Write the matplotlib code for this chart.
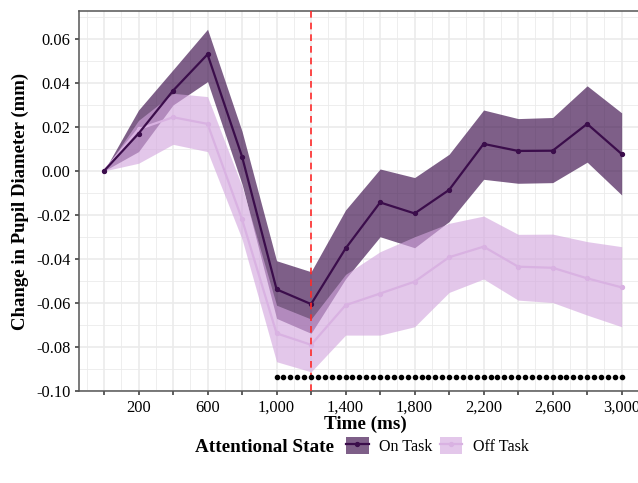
import matplotlib
matplotlib.use("Agg")
import matplotlib.pyplot as plt
from matplotlib.patches import Patch
from matplotlib.lines import Line2D

plt.rcParams['font.family'] = ['Liberation Serif', 'DejaVu Serif']

# ---- data ----
time_ms = [0, 200, 400, 600, 800, 1000, 1200, 1400, 1600, 1800, 2000, 2200, 2400, 2600, 2800, 3000]

on_mean = [0.0, 0.017, 0.0365, 0.053, 0.0065, -0.0538, -0.0605, -0.0352, -0.0143, -0.0193, -0.0086, 0.0123, 0.0091, 0.0092, 0.0214, 0.0077]
on_upper = [0.0, 0.0277, 0.046, 0.0644, 0.018, -0.0408, -0.0458, -0.0177, 0.0009, -0.003, 0.0076, 0.0277, 0.0238, 0.0243, 0.0387, 0.0264]
on_lower = [0.0, 0.0088, 0.0300, 0.0406, -0.006, -0.067, -0.0738, -0.049, -0.0299, -0.0349, -0.023, -0.0038, -0.0056, -0.0053, 0.004, -0.0109]

off_mean = [0.0, 0.019, 0.0244, 0.0214, -0.022, -0.0738, -0.079, -0.061, -0.0557, -0.0503, -0.0392, -0.0344, -0.0435, -0.044, -0.0488, -0.0529]
off_upper = [0.0, 0.023, 0.0353, 0.0338, -0.007, -0.061, -0.0673, -0.047, -0.0367, -0.0299, -0.0238, -0.0205, -0.0288, -0.0287, -0.0321, -0.0344]
off_lower = [0.0, 0.0035, 0.0121, 0.0088, -0.031, -0.0867, -0.0913, -0.0746, -0.0746, -0.0708, -0.0552, -0.0491, -0.0587, -0.0598, -0.0655, -0.0708]

sig_times = [1000, 1040, 1080, 1120, 1160, 1200, 1240, 1280, 1320, 1360, 1400, 1440, 1480,
             1520, 1560, 1600, 1640, 1680, 1720, 1760, 1800, 1840, 1880, 1920, 1960, 2000,
             2040, 2080, 2120, 2160, 2200, 2240, 2280, 2320, 2360, 2400, 2440, 2480, 2520,
             2560, 2600, 2640, 2680, 2720, 2760, 2800, 2840, 2880, 2920, 2960, 3000]
sig_level = -0.0935

onset_ms = 1200

x_ticks = [0, 200, 400, 600, 800, 1000, 1200, 1400, 1600, 1800, 2000, 2200, 2400, 2600, 2800, 3000]
x_tick_labels = ['', '200', '', '600', '', '1,000', '', '1,400', '', '1,800', '', '2,200', '', '2,600', '', '3,000']
y_ticks = [-0.10, -0.08, -0.06, -0.04, -0.02, 0.00, 0.02, 0.04, 0.06]
y_tick_labels = ['-0.10', '-0.08', '-0.06', '-0.04', '-0.02', '0.00', '0.02', '0.04', '0.06']

series_labels = ['On Task', 'Off Task']

# ---- style ----
on_line_c = '#3b0d4b'
on_fill_c = '#3b0d4b'
off_line_c = '#d9b2e2'
off_fill_c = '#d3a6de'
on_alpha = 0.66
off_alpha = 0.62
grid_c = '#ebebeb'
tick_c = '#333333'

fig = plt.figure(figsize=(6.38, 4.83), dpi=100)
W, H = 638, 483
left_px, right_px, top_px, bot_px = 79, 651, 11, 391
ax = fig.add_axes([left_px / W, 1 - bot_px / H, (right_px - left_px) / W, (bot_px - top_px) / H])

ax.set_xlim(-145, 3170)
ax.set_ylim(-0.10, 0.0727)

# grid
ax.set_xticks(x_ticks)
ax.set_xticks([t + 100 for t in [-200] + x_ticks], minor=True)
ax.set_yticks(y_ticks)
ax.set_yticks([v + 0.01 for v in y_ticks], minor=True)
ax.grid(True, which='major', color=grid_c, linewidth=1.2, zorder=0)
ax.grid(True, which='minor', color=grid_c, linewidth=0.6, zorder=0)
ax.set_axisbelow(True)

ax.set_xticklabels(x_tick_labels)
ax.set_yticklabels(y_tick_labels)
ax.tick_params(axis='both', which='major', length=3, width=1.1, color=tick_c,
               labelsize=11.8, labelcolor='black')
ax.tick_params(axis='x', which='major', pad=3.5)
ax.tick_params(axis='y', which='major', pad=3)
ax.tick_params(axis='both', which='minor', length=0)

for s in ax.spines.values():
    s.set_color('#555555')
    s.set_linewidth(1.1)
ax.spines['right'].set_visible(False)

# ribbons
ax.fill_between(time_ms, on_lower, on_upper, color=on_fill_c, alpha=on_alpha, linewidth=0, zorder=2)
ax.fill_between(time_ms, off_lower, off_upper, color=off_fill_c, alpha=off_alpha, linewidth=0, zorder=3)

# lines
ax.plot(time_ms, on_mean, color=on_line_c, lw=1.6, marker='o', ms=2.8, zorder=5)
ax.plot(time_ms, off_mean, color=off_line_c, lw=1.6, marker='o', ms=2.8, zorder=4)

# onset line
ax.axvline(onset_ms, color='#ff2a2a', lw=1.2, linestyle=(0, (4, 3)), zorder=6)

# significance dots
ax.plot(sig_times, [sig_level] * len(sig_times), linestyle='none', marker='o', ms=3.0,
        color='black', zorder=7)

ax.set_xlabel('Time (ms)', fontsize=13.8, fontweight='bold', labelpad=0)
ax.set_ylabel('Change in Pupil Diameter (mm)', fontsize=13.5, fontweight='bold', labelpad=5)

# legend
fig.text(195 / W, 1 - 447 / H, 'Attentional State', fontsize=13.8, fontweight='bold',
         ha='left', va='center')
handles = [
    (Patch(facecolor=on_fill_c, alpha=on_alpha, edgecolor='none'),
     Line2D([], [], color=on_line_c, lw=1.6, marker='o', ms=2.8)),
    (Patch(facecolor=off_fill_c, alpha=off_alpha, edgecolor='none'),
     Line2D([], [], color=off_line_c, lw=1.6, marker='o', ms=2.8)),
]
fig.legend(handles, series_labels, loc='center left', bbox_to_anchor=(346 / W, 1 - 446 / H),
           ncol=2, frameon=False, fontsize=11.6, handlelength=1.4, handleheight=1.2,
           handletextpad=0.65, columnspacing=0.45, borderaxespad=0, borderpad=0)

fig.savefig('out.png', dpi=100)
